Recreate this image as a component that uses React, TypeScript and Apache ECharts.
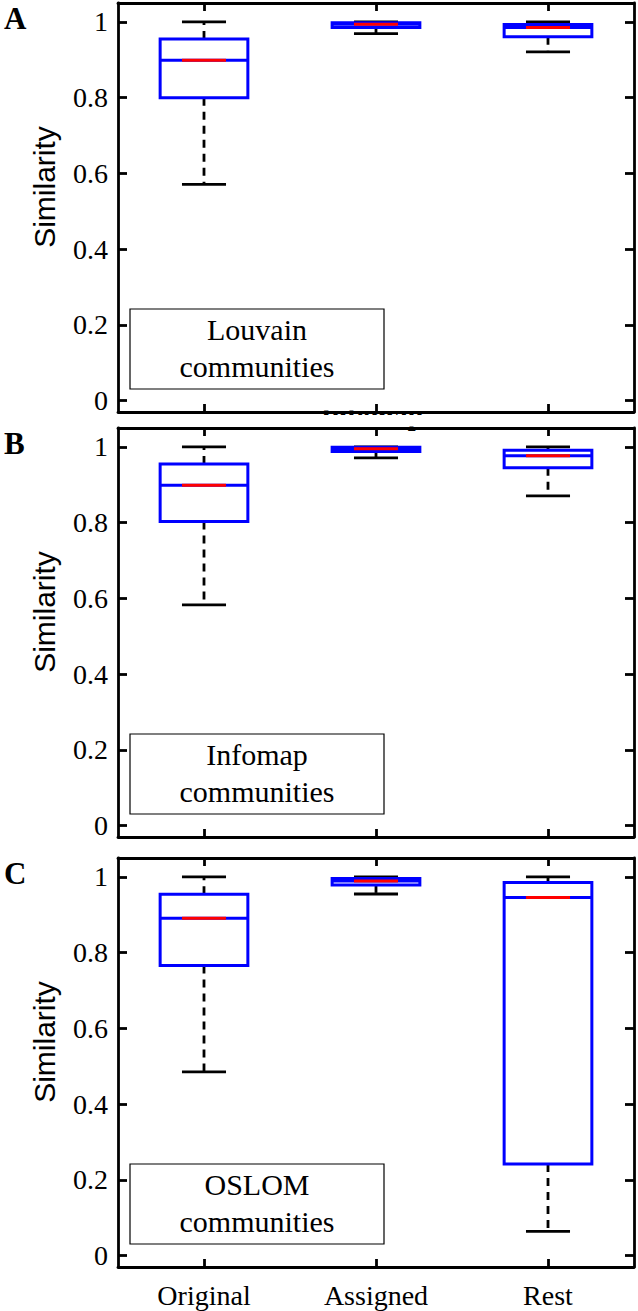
import React, { useEffect, useRef } from "react";
import * as echarts from "echarts";

// ---- data ----
const categories = ["Original", "Assigned", "Rest"];
// each row: [lower whisker, Q1, median, Q3, upper whisker]
const louvain = [
  [0.571, 0.8, 0.899, 0.955, 1.0],
  [0.969, 0.985, 0.994, 0.998, 1.0],
  [0.921, 0.961, 0.985, 0.993, 1.0],
];
const infomap = [
  [0.583, 0.803, 0.899, 0.955, 1.0],
  [0.971, 0.988, 0.995, 0.999, 1.0],
  [0.871, 0.945, 0.977, 0.991, 1.0],
];
const oslom = [
  [0.485, 0.766, 0.891, 0.954, 1.0],
  [0.955, 0.979, 0.989, 0.996, 1.0],
  [0.064, 0.242, 0.946, 0.985, 1.0],
];
const yTicks = [0, 0.2, 0.4, 0.6, 0.8, 1];
const panelNames = ["Louvain\ncommunities", "Infomap\ncommunities", "OSLOM\ncommunities"];
const panelLetters = ["A", "B", "C"];
const yLabel = "Similarity";

const BLUE = "#0000ff";
const RED = "#ff0000";
const BLACK = "#000000";
const SERIF_NAME = "Liberation Serif";
const SERIF = "'Liberation Serif', serif";
const SANS = "'Liberation Sans', sans-serif";

const panelData = [louvain, infomap, oslom];
const gridTops = [3, 428, 858];
const GRID_LEFT = 118;
const GRID_W = 516;
const GRID_H = 409;

function renderBox(params: any, api: any) {
  const idx = api.value(0);
  const lo = api.value(1);
  const q1 = api.value(2);
  const med = api.value(3);
  const q3 = api.value(4);
  const hi = api.value(5);
  const band = api.size([1, 0])[0];
  const boxW = band * 0.51;
  const capW = band * 0.256;
  const x = api.coord([idx, med])[0];
  const yLo = api.coord([idx, lo])[1];
  const yQ1 = api.coord([idx, q1])[1];
  const yMed = api.coord([idx, med])[1];
  const yQ3 = api.coord([idx, q3])[1];
  const yHi = api.coord([idx, hi])[1];
  const whisk = { stroke: BLACK, lineWidth: 2.8, lineDash: [8, 6] };
  const cap = { stroke: BLACK, lineWidth: 2.8 };
  return {
    type: "group",
    children: [
      { type: "line", shape: { x1: x, y1: yQ3, x2: x, y2: yHi }, style: whisk },
      { type: "line", shape: { x1: x, y1: yQ1, x2: x, y2: yLo }, style: whisk },
      { type: "line", shape: { x1: x - capW / 2, y1: yHi, x2: x + capW / 2, y2: yHi }, style: cap },
      { type: "line", shape: { x1: x - capW / 2, y1: yLo, x2: x + capW / 2, y2: yLo }, style: cap },
      {
        type: "rect",
        shape: { x: x - boxW / 2, y: yQ3, width: boxW, height: yQ1 - yQ3 },
        style: { fill: "transparent", stroke: BLUE, lineWidth: 3 },
      },
      { type: "line", shape: { x1: x - boxW / 2, y1: yMed, x2: x + boxW / 2, y2: yMed }, style: { stroke: BLUE, lineWidth: 3 } },
      { type: "line", shape: { x1: x - capW / 2, y1: yMed, x2: x + capW / 2, y2: yMed }, style: { stroke: RED, lineWidth: 3 } },
    ],
  };
}

function buildOption() {
  const grid: any[] = [];
  const xAxis: any[] = [];
  const yAxis: any[] = [];
  const series: any[] = [];
  const graphic: any[] = [];

  const axisLine = { show: true, onZero: false, lineStyle: { color: BLACK, width: 2.8 } };
  const tickStyle = { color: BLACK, width: 2.8 };

  panelData.forEach((data, g) => {
    grid.push({ left: GRID_LEFT, top: gridTops[g], width: GRID_W, height: GRID_H, containLabel: false });
    const showX = g === 2;
    xAxis.push({
      type: "category",
      gridIndex: g,
      data: categories,
      position: "bottom",
      boundaryGap: true,
      axisLine,
      axisTick: { show: true, inside: true, alignWithLabel: true, length: 8, lineStyle: tickStyle },
      axisLabel: {
        show: showX,
        interval: 0,
        hideOverlap: false,
        color: BLACK,
        fontFamily: SERIF_NAME,
        fontSize: 28,
        margin: 14,
      },
      splitLine: { show: false },
    });
    xAxis.push({
      type: "category",
      gridIndex: g,
      data: categories,
      position: "top",
      boundaryGap: true,
      axisLine,
      axisTick: { show: true, inside: true, alignWithLabel: true, length: 8, lineStyle: tickStyle },
      axisLabel: { show: false },
      splitLine: { show: false },
    });
    yAxis.push({
      type: "value",
      gridIndex: g,
      position: "left",
      min: -0.03,
      max: 1.05,
      axisLine,
      axisTick: { show: true, inside: true, length: 9, customValues: yTicks, lineStyle: tickStyle },
      axisLabel: {
        show: true,
        customValues: yTicks,
        color: BLACK,
        fontFamily: SERIF_NAME,
        fontSize: 28,
        margin: 10,
      },
      splitLine: { show: false },
    });
    yAxis.push({
      type: "value",
      gridIndex: g,
      position: "right",
      min: -0.03,
      max: 1.05,
      axisLine,
      axisTick: { show: true, inside: true, length: 9, customValues: yTicks, lineStyle: tickStyle },
      axisLabel: { show: false },
      splitLine: { show: false },
    });
    series.push({
      type: "custom",
      xAxisIndex: g * 2,
      yAxisIndex: g * 2,
      renderItem: renderBox,
      encode: { x: 0, y: [1, 2, 3, 4, 5] },
      data: data.map((row, i) => [i, ...row]),
      clip: false,
      z: 3,
    });

    const top = gridTops[g];
    graphic.push({
      type: "text",
      x: 4,
      y: top + 15,
      style: { text: panelLetters[g], fill: BLACK, font: `bold 31px ${SERIF}`, verticalAlign: "middle", align: "left" },
    });
    graphic.push({
      type: "text",
      x: 44,
      y: top + 184,
      rotation: Math.PI / 2,
      style: { text: yLabel, fill: BLACK, font: `30px ${SANS}`, align: "center", verticalAlign: "middle" },
    });
    graphic.push({
      type: "rect",
      shape: { x: 130, y: top + 306, width: 254, height: 80 },
      style: { fill: "#ffffff", stroke: BLACK, lineWidth: 1.2 },
      z: 10,
    });
    graphic.push({
      type: "text",
      x: 257,
      y: top + 345,
      style: {
        text: panelNames[g],
        fill: BLACK,
        font: `30px ${SERIF}`,
        lineHeight: 37,
        align: "center",
        verticalAlign: "middle",
      },
      z: 11,
    });
  });

  // partially hidden title of panel B (only its top sliver shows between panels)
  graphic.push({
    type: "text",
    x: 372,
    y: 415.5,
    z: 0,
    style: { text: "Infomap", fill: BLACK, font: `bold 28px ${SERIF}`, align: "center", verticalAlign: "middle" },
  });
  graphic.push({ type: "rect", z: 100, shape: { x: 312, y: 392, width: 50, height: 18.6 }, style: { fill: "#ffffff" } });
  graphic.push({ type: "rect", z: 100, shape: { x: 300, y: 415, width: 150, height: 11.6 }, style: { fill: "#ffffff" } });

  return {
    animation: false,
    backgroundColor: "#ffffff",
    textStyle: { fontFamily: SERIF_NAME },
    grid,
    xAxis,
    yAxis,
    series,
    graphic,
  };
}

export default function App() {
  const ref = useRef<HTMLDivElement>(null);
  useEffect(() => {
    if (!ref.current) return;
    const chart = echarts.init(ref.current, null, { renderer: "svg" });
    chart.setOption(buildOption() as any);
    return () => chart.dispose();
  }, []);
  return (
    <div
      ref={ref}
      style={{ position: "absolute", left: 0, top: 0, width: 638, height: 1311, background: "#ffffff" }}
    />
  );
}
